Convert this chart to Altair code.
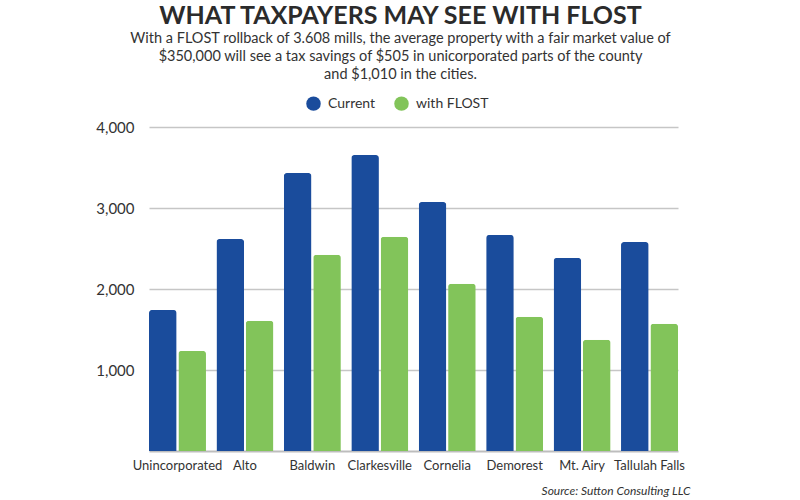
import altair as alt
import pandas as pd

# Property tax on a $350,000 home, before and after the FLOST rollback
places = ["Unincorporated", "Alto", "Baldwin", "Clarkesville", "Cornelia",
          "Demorest", "Mt. Airy", "Tallulah Falls"]
current = [1741, 2617, 3432, 3654, 3074, 2667, 2383, 2580]
with_flost = [1236, 1607, 2422, 2644, 2064, 1657, 1373, 1570]
series = ["Current", "with FLOST"]
colors = ["#1a4c9c", "#82c45a"]

rows = []
for place, cur, fl in zip(places, current, with_flost):
    rows.append({"place": place, "series": series[0], "tax": cur})
    rows.append({"place": place, "series": series[1], "tax": fl})
df = pd.DataFrame(rows)

FONT = "Lato"
INK = "#333333"

chart = (
    alt.Chart(df)
    .mark_bar(cornerRadiusTopLeft=3, cornerRadiusTopRight=3)
    .encode(
        x=alt.X(
            "place:N",
            sort=places,
            scale=alt.Scale(paddingInner=0.155, paddingOuter=0),
            axis=alt.Axis(
                title="Source:  Sutton Consulting LLC",
                titleFontStyle="italic",
                titleFontWeight="normal",
                titleFontSize=12,
                titleColor=INK,
                titleFont=FONT,
                titleAlign="right",
                titleAnchor="end",
                titleBaseline="middle",
                titleX=541,
                titleY=39,
                labelAngle=0,
                labelFont=FONT,
                labelFontSize=13,
                labelColor=INK,
                labelPadding=8,
                ticks=False,
                domainColor="#bdbdbd",
                domainWidth=2,
            ),
        ),
        xOffset=alt.XOffset("series:N", sort=series,
                            scale=alt.Scale(paddingInner=0.06)),
        y=alt.Y(
            "tax:Q",
            scale=alt.Scale(domain=[0, 4000], nice=False),
            axis=alt.Axis(
                title=None,
                values=[1000, 2000, 3000, 4000],
                format=",d",
                labelFont=FONT,
                labelFontSize=15,
                labelColor=INK,
                labelPadding=15,
                ticks=False,
                domain=False,
                gridColor="#c6c6c6",
                gridWidth=1.5,
            ),
        ),
        color=alt.Color(
            "series:N",
            sort=series,
            scale=alt.Scale(domain=series, range=colors),
            legend=alt.Legend(
                title=None,
                orient="none",
                direction="horizontal",
                legendX=157,
                legendY=-31,
                symbolType="circle",
                symbolSize=210,
                symbolStrokeWidth=0,
                labelFont=FONT,
                labelFontSize=14,
                labelColor=INK,
                columnPadding=18,
                labelOffset=7,
            ),
        ),
    )
    .properties(
        width=529,
        height=324,
        autosize=alt.AutoSizeParams(type="none"),
        padding={"left": 149, "top": 127, "right": 122, "bottom": 49},
        title=alt.TitleParams(
            text="WHAT TAXPAYERS MAY SEE WITH FLOST",
            subtitle=[
                "With a FLOST rollback of 3.608 mills, the average property with a fair market value of",
                "$350,000 will see a tax savings of $505 in unicorporated parts of the county",
                "and $1,010 in the cities.",
            ],
            anchor="middle",
            frame="group",
            dx=-13,
            font=FONT,
            fontSize=25,
            fontWeight="bold",
            color="#2b2b2b",
            subtitleFont=FONT,
            subtitleFontSize=14.5,
            subtitleColor=INK,
            subtitleLineHeight=18,
            subtitlePadding=3,
            offset=15,
        ),
    )
    .configure(background="white")
    .configure_view(stroke=None)
)

chart.save("out.html", embed_options={"renderer": "svg", "actions": False})
